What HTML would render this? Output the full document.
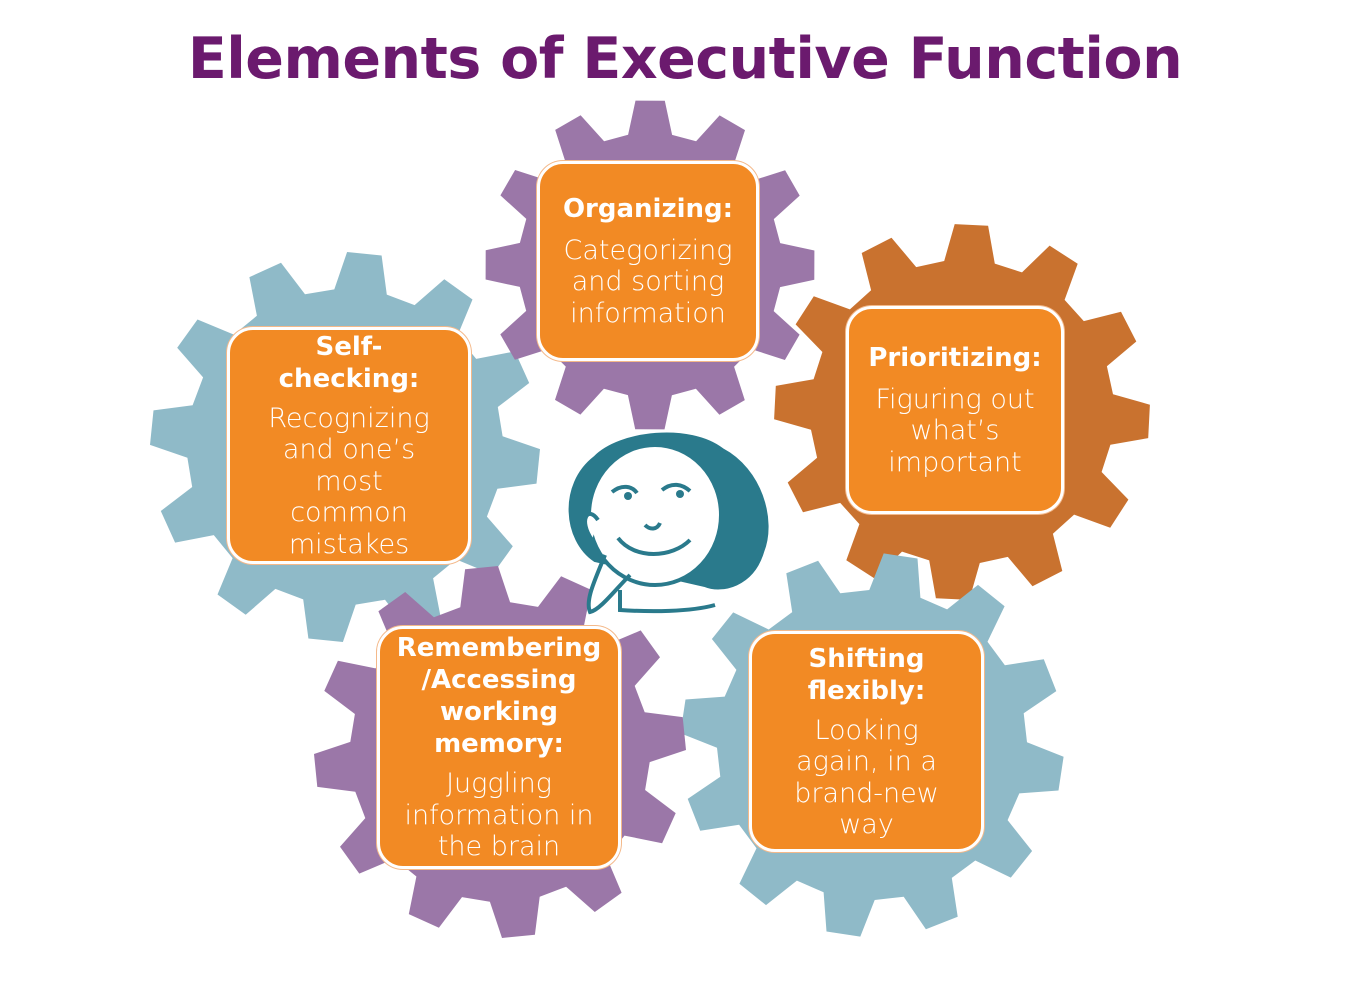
<!DOCTYPE html>
<html><head><meta charset="utf-8">
<style>
html,body{margin:0;padding:0;background:#fff;}
body{width:1370px;height:997px;position:relative;overflow:hidden;font-family:"DejaVu Sans","Liberation Sans",sans-serif;}
h1{position:absolute;left:0;width:1370px;top:26px;margin:0;text-align:center;font-size:57px;font-weight:bold;color:#6b1a6e;letter-spacing:-0.5px;font-family:"DejaVu Sans","Liberation Sans",sans-serif;}
svg{position:absolute;left:0;top:0;}
.box{position:absolute;background:#f28a24;border:3px solid #fff;border-radius:26px;box-sizing:border-box;color:#fff;text-align:center;display:flex;flex-direction:column;justify-content:center;box-shadow:0 0 0 1px #f4b98a;white-space:nowrap;}
.box b{font-size:26px;line-height:32px;}
.box span{font-size:27px;line-height:31.5px;font-weight:200;margin-top:10px;}
</style></head><body>
<svg id="g" width="1370" height="997"></svg>
<h1>Elements of Executive Function</h1>
<div class="box" style="left:537px;top:161px;width:222px;height:200px;"><b>Organizing:</b><span>Categorizing<br>and sorting<br>information</span></div>
<div class="box" style="left:846px;top:306px;width:218px;height:208px;"><b>Prioritizing:</b><span>Figuring out<br>what’s<br>important</span></div>
<div class="box" style="left:227px;top:327px;width:244px;height:237px;"><b>Self-<br>checking:</b><span style="margin-top:8px">Recognizing<br>and one’s<br>most<br>common<br>mistakes</span></div>
<div class="box" style="left:377px;top:626px;width:244px;height:243px;"><b>Remembering<br>/Accessing<br>working<br>memory:</b><span style="margin-top:8px">Juggling<br>information in<br>the brain</span></div>
<div class="box" style="left:749px;top:631px;width:235px;height:221px;"><b>Shifting<br>flexibly:</b><span style="margin-top:8px">Looking<br>again, in a<br>brand-new<br>way</span></div>
<script>
function gear(cx,cy,ro,ri,n,rot,col){
  var p=[],step=2*Math.PI/n;
  for(var i=0;i<n;i++){
    var a=rot+i*step;
    var pts=[[a-step*0.32,ri],[a-step*0.17,ro],[a+step*0.17,ro],[a+step*0.32,ri]];
    pts.forEach(function(q){p.push((cx+q[1]*Math.cos(q[0])).toFixed(1)+","+(cy+q[1]*Math.sin(q[0])).toFixed(1));});
  }
  return '<polygon points="'+p.join(" ")+'" fill="'+col+'"/>';
}
var s="";
s+=gear(345,447,195,158,12,0.1,"#8fbac8");
s+=gear(650,265,165,132,12,-1.57,"#9b77a8");
s+=gear(962,412,188,152,12,0.05,"#c9722f");
s+=gear(872,745,192,155,12,0.15,"#8fbac8");
s+=gear(500,752,186,150,12,-0.1,"#9b77a8");
s+='<g stroke="#2a7a8c" stroke-width="4" fill="none">'+
'<path d="M595,560 C565,540 560,485 595,458 C620,432 690,425 722,450 C760,470 775,520 762,552 C752,585 722,592 705,585 Z" fill="#2a7a8c"/>'+
'<ellipse cx="655" cy="515" rx="66" ry="70" fill="#fff"/>'+
'<path d="M598,520 C588,505 578,520 592,540" fill="#fff"/>'+
'<path d="M620,590 L620,610 C650,612 690,612 715,605"/>'+
'<path d="M618,538 C635,560 672,558 690,540"/>'+
'<path d="M612,492 C622,484 632,486 637,493"/><path d="M662,490 C672,482 682,484 690,491"/>'+
'<path d="M645,525 C650,530 657,530 660,523"/>'+
'<path d="M605,555 C595,580 585,600 590,612 C600,610 615,590 630,575"/>'+
'</g><circle cx="628" cy="496" r="4" fill="#2a7a8c"/><circle cx="680" cy="494" r="4" fill="#2a7a8c"/>';
document.getElementById("g").innerHTML=s;
</script>
</body></html>
